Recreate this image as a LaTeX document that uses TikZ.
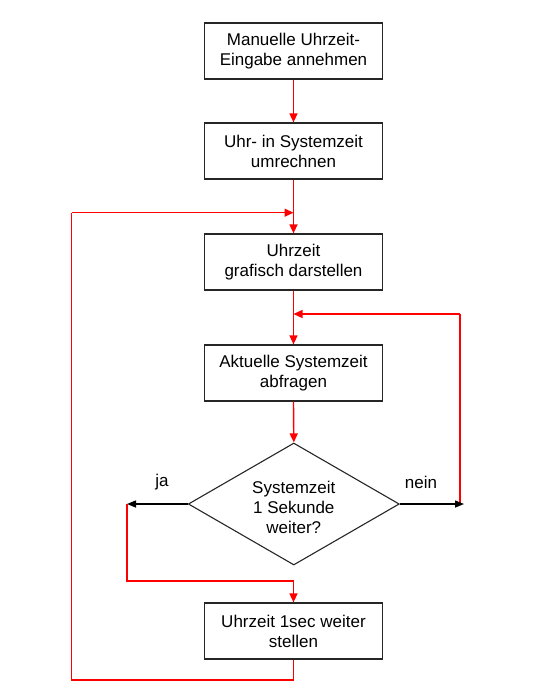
\documentclass[tikz,border=0pt]{standalone}
\usepackage{fontspec}
\setmainfont{Liberation Sans}
\usetikzlibrary{arrows.meta,shapes.geometric}
\begin{document}
\begin{tikzpicture}[x=1pt,y=-1pt,
  txt/.style={font=\fontsize{17}{20}\selectfont},
  procbox/.style={txt,draw=black!85,line width=1.2pt,minimum width=178pt,minimum height=56pt,inner sep=0pt,align=center},
  decbox/.style={draw=black!85,line width=1.1pt,diamond,minimum width=211pt,minimum height=122pt,inner sep=0pt},
  redline/.style={draw=red,line width=1.4pt},
  redarrow/.style={redline,-{Triangle[length=9pt,width=8pt]}},
  blackarrow/.style={draw=black,line width=1.4pt,-{Triangle[length=9pt,width=7pt]}},
  lbl/.style={txt,inner sep=0pt}]
\useasboundingbox (0,0) rectangle (535,691);
\node[procbox] (b1) at (293.5,51) {Manuelle Uhrzeit-\\Eingabe annehmen};
\node[procbox] (b2) at (293.5,151) {Uhr- in Systemzeit\\umrechnen};
\node[procbox] (b3) at (293.5,262) {Uhrzeit\\grafisch darstellen};
\node[procbox] (b4) at (293.5,373) {Aktuelle Systemzeit\\abfragen};
\node[decbox] (d) at (293.8,504) {};
\node[txt,align=center,inner sep=0pt] (dt) at (293.8,507) {Systemzeit\\1 Sekunde\\weiter?};
\node[procbox] (b5) at (293.5,631) {Uhrzeit 1sec weiter\\stellen};
\coordinate (jl) at (127,504);
\coordinate (nr) at (464,504);
\coordinate (rtop) at (460,314);
\coordinate (rbot) at (460,504);
\coordinate (jd) at (127,581);
\coordinate (jm) at (293.5,581);
\coordinate (lb) at (71.7,680);
\coordinate (lbm) at (293.5,680);
\coordinate (lt) at (71.7,212.7);
\coordinate (lm) at (293.5,212.7);
\coordinate (rm) at (293.5,314);
\node[lbl] (ja) at (162,482) {ja};
\node[lbl] (nein) at (421,482) {nein};
% main flow
\draw[redarrow] (b1.south) -- (b2.north);
\draw[redarrow] (b2.south) -- (b3.north);
\draw[redarrow] (b3.south) -- (b4.north);
\draw[redarrow] (b4.south) -- (d.north);
% left loop back
\draw[redline] (b5.south) -- (lbm) -- (lb) -- (lt);
\draw[redarrow] (lt) -- (lm);
% right loop back (nein)
\draw[redline] (rbot) -- (rtop);
\draw[redarrow] (rtop) -- (rm);
% decision outputs
\draw[blackarrow] (d.west) -- (jl);
\draw[blackarrow] (d.east) -- (nr);
\draw[redline] (jl) -- (jd) -- (jm);
\draw[redarrow] (jm) -- (b5.north);
\end{tikzpicture}
\end{document}
